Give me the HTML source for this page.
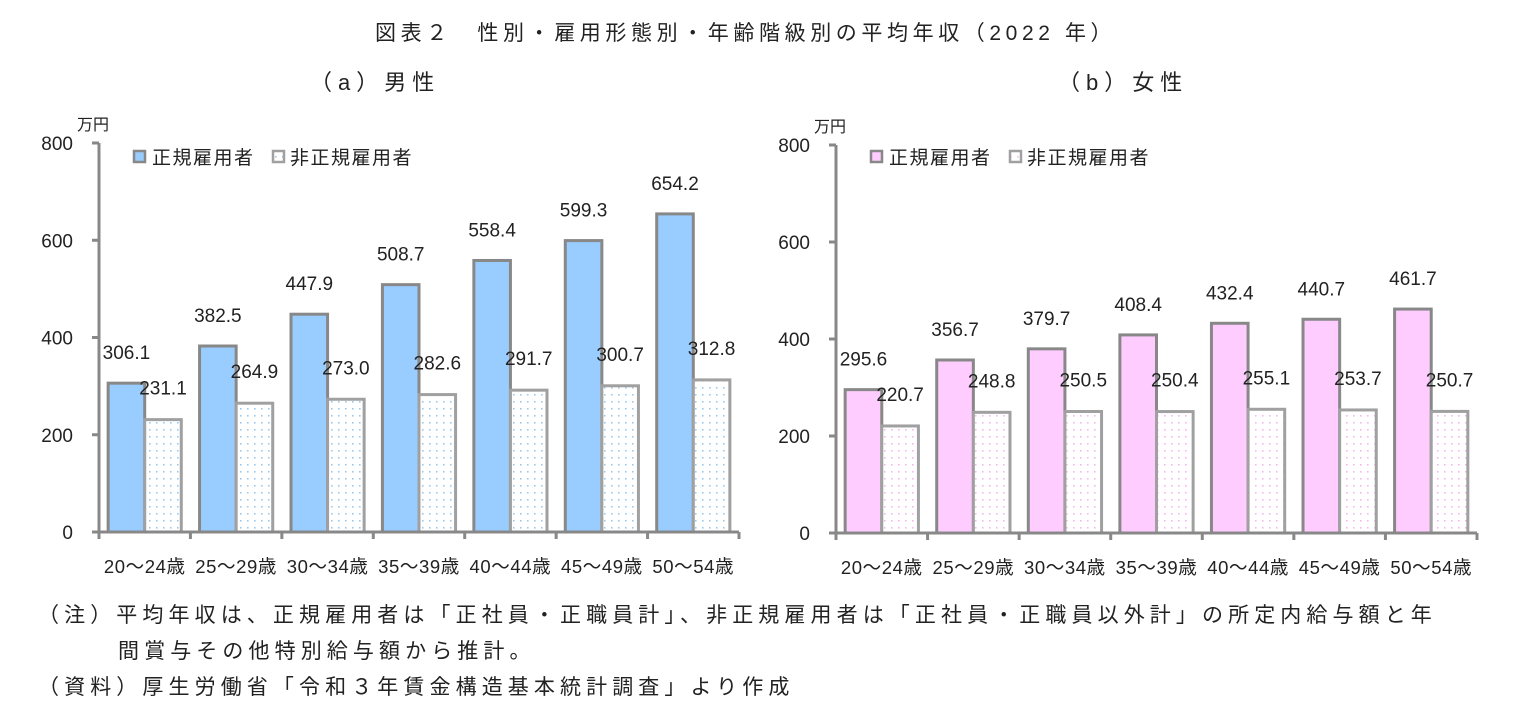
<!DOCTYPE html>
<html><head><meta charset="utf-8">
<style>
body{margin:0;background:#fff;}
svg text{font-family:"Liberation Sans","Noto Sans CJK JP",sans-serif;fill:#222;}
</style></head>
<body>
<svg id="c" width="1523" height="717" xmlns="http://www.w3.org/2000/svg">
<defs>
<pattern id="dotB" width="7" height="7" patternUnits="userSpaceOnUse"><rect width="7" height="7" fill="#fff"/><rect x="2" y="2" width="1.6" height="1.6" fill="#9cc8ee"/></pattern>
<pattern id="dotP" width="7" height="7" patternUnits="userSpaceOnUse"><rect width="7" height="7" fill="#fff"/><rect x="2" y="2" width="1.6" height="1.6" fill="#f5b8ee"/></pattern>
</defs>
<text x="375" y="40" font-size="21" letter-spacing="4.6">図表２　性別・雇用形態別・年齢階級別の平均年収（2022 年）</text>
<text x="310" y="90" font-size="22" letter-spacing="6">（a）男性</text>
<text x="1058" y="90" font-size="22" letter-spacing="6">（b）女性</text>
<g id="pa"></g>
<g id="pb"></g>
<text x="38" y="622" font-size="21" letter-spacing="5.1">（注）平均年収は、正規雇用者は「正社員・正職員計」、非正規雇用者は「正社員・正職員以外計」の所定内給与額と年</text>
<text x="118" y="658" font-size="21" letter-spacing="5.1">間賞与その他特別給与額から推計。</text>
<text x="38" y="694" font-size="21" letter-spacing="5.1">（資料）厚生労働省「令和３年賃金構造基本統計調査」より作成</text>
</svg>
<script>
const categories=["20〜24歳","25〜29歳","30〜34歳","35〜39歳","40〜44歳","45〜49歳","50〜54歳"];
const maleRegular=[306.1,382.5,447.9,508.7,558.4,599.3,654.2];
const maleNonRegular=[231.1,264.9,273.0,282.6,291.7,300.7,312.8];
const femaleRegular=[295.6,356.7,379.7,408.4,432.4,440.7,461.7];
const femaleNonRegular=[220.7,248.8,250.5,250.4,255.1,253.7,250.7];
const yTicks=[0,200,400,600,800];
const NS="http://www.w3.org/2000/svg";
function mk(p,t,a,txt){const e=document.createElementNS(NS,t);for(const k in a)e.setAttribute(k,a[k]);if(txt!==undefined)e.textContent=txt;p.appendChild(e);return e;}
function panel(g,x0,x1,y0,y800,reg,non,regFill,nonFill,legX){
  const y=v=>y0-(y0-y800)*v/800;
  const cw=(x1-x0)/categories.length;
  const x=i=>x0+i*cw;
  mk(g,'text',{x:x0-22,y:y800-13,'font-size':16},'万円');
  yTicks.forEach(t=>{
    const tl=mk(g,'text',{x:x0-26,y:y(t)+7,'font-size':19,'text-anchor':'end'},t);
    
    
    mk(g,'line',{x1:x0-7,x2:x0,y1:y(t),y2:y(t),stroke:'#888','stroke-width':3});
  });
  categories.forEach((c,i)=>{
    const bw=cw*0.4, bx=x(i)+cw*0.1;
    const r=mk(g,'rect',{x:bx,y:y(reg[i]),width:bw,height:y0-y(reg[i]),fill:regFill,stroke:'#888','stroke-width':3});
    
    
    const n=mk(g,'rect',{x:bx+bw,y:y(non[i]),width:bw,height:y0-y(non[i]),fill:nonFill,stroke:'#a0a0a0','stroke-width':3});
    
    
    const l1=mk(g,'text',{x:bx+bw/2,y:y(reg[i])-24,'font-size':19,'text-anchor':'middle'},reg[i].toFixed(1));
    
    
    const l2=mk(g,'text',{x:bx+bw*1.5,y:y(non[i])-25,'font-size':19,'text-anchor':'middle'},non[i].toFixed(1));
    
    
    const cl=mk(g,'text',{x:x(i)+cw/2,y:y0+41,'font-size':18.5,'text-anchor':'middle','letter-spacing':0.6},c);
    
    
    mk(g,'line',{x1:x(i+1),x2:x(i+1),y1:y0,y2:y0+7,stroke:'#888','stroke-width':3});
  });
  mk(g,'line',{x1:x0,x2:x0,y1:y800,y2:y0+7,stroke:'#888','stroke-width':3});
  mk(g,'line',{x1:x0,x2:x1,y1:y0,y2:y0,stroke:'#888','stroke-width':3});
  const lg=mk(g,'g',{});
  
  
  mk(lg,'rect',{x:legX,y:151,width:11,height:11,fill:regFill,stroke:'#888','stroke-width':2.5});
  mk(lg,'text',{x:legX+18,y:164,'font-size':19,'letter-spacing':1.5},'正規雇用者');
  mk(lg,'rect',{x:legX+139,y:151,width:11,height:11,fill:nonFill,stroke:'#a0a0a0','stroke-width':2.5});
  mk(lg,'text',{x:legX+156,y:164,'font-size':19,'letter-spacing':1.5},'非正規雇用者');
}
panel(document.getElementById('pa'),99,739,532,143,maleRegular,maleNonRegular,'#99ccff','url(#dotB)',134);
panel(document.getElementById('pb'),836,1477,533,145,femaleRegular,femaleNonRegular,'#ffccff','url(#dotP)',871);
</script>
</body></html>
